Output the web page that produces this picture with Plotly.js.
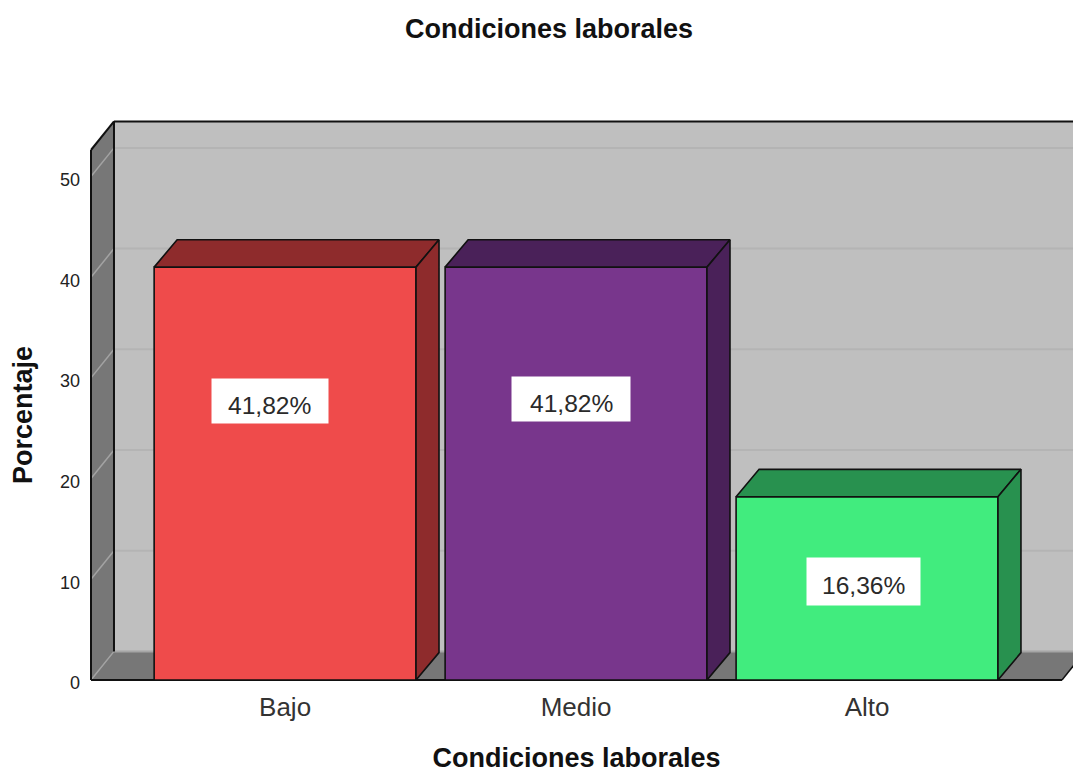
<!DOCTYPE html>
<html><head><meta charset="utf-8">
<script src="https://cdn.plot.ly/plotly-3.0.1.min.js"></script>
<style>html,body{margin:0;padding:0;background:#fff;overflow:hidden}</style>
</head><body><div id="chart" style="width:1073px;height:773px"></div>
<script>
// Data
const categories = ["Bajo", "Medio", "Alto"];
const barHeights = [41.0, 41.0, 18.2];
const valueLabels = ["41,82%", "41,82%", "16,36%"];
const yTicks = [0, 10, 20, 30, 40, 50];

// Styles
const frontColors = ["#ef4b4b", "#78368c", "#41ec7e"];
const depthColors = ["#8e2b2c", "#4a2159", "#28914f"];
const FONT = "Liberation Sans, Arial, sans-serif";
const INK = "#111111";

// Axis geometry (3D look: depth of the box in data units)
const xMin = -0.667, xMax = 2.67, yMax = 52.63;
const dx = 0.079, dy = 2.84, barDy = 2.72, barW = 0.9;
const px = v => (v - xMin) / (xMax - xMin);
const py = v => v / yMax;
const path = pts => "M" + pts.map(p => px(p[0]) + "," + py(p[1])).join("L") + "Z";
const line = (a, b) => "M" + px(a[0]) + "," + py(a[1]) + "L" + px(b[0]) + "," + py(b[1]);
const shp = (d, fill, color, width) => ({type: "path", xref: "paper", yref: "paper", layer: "below",
  path: d, fillcolor: fill || "rgba(0,0,0,0)", line: {color: color || "rgba(0,0,0,0)", width: width || 0}});

const farX = xMax + dx + 0.05;
const shapes = [
  shp(path([[xMin + dx, dy], [farX, dy], [farX, yMax + dy], [xMin + dx, yMax + dy]]), "#bfbfbf"),
  shp(path([[xMin, 0], [xMin + dx, dy], [xMin + dx, yMax + dy], [xMin, yMax]]), "#777777"),
  shp(path([[xMin, 0], [xMax, 0], [xMax + dx, dy], [xMin + dx, dy]]), "#777777")
];
yTicks.forEach(t => {
  shapes.push(shp(line([xMin + dx, t + dy], [farX, t + dy]), null, t === 0 ? "#a6a6a6" : "#b4b4b4", 2));
  shapes.push(shp(line([xMin, t], [xMin + dx, t + dy]), null, "#a3a3a3", 1.5));
});
shapes.push(
  shp(line([xMin, 0], [xMin, yMax]), null, INK, 2),
  shp(line([xMin, yMax], [xMin + dx, yMax + dy]), null, INK, 2),
  shp(line([xMin + dx, dy], [xMin + dx, yMax + dy]), null, INK, 2),
  shp(line([xMin + dx, yMax + dy], [farX, yMax + dy]), null, INK, 2),
  shp(line([xMin, 0], [xMax, 0]), null, INK, 2),
  shp(line([xMax, 0], [xMax + dx, dy]), null, INK, 1.5)
);

// Front faces
const traces = [{
  type: "bar", x: [0, 1, 2], y: barHeights, width: barW, cliponaxis: false,
  marker: {color: frontColors, line: {color: INK, width: 1.6}}, hoverinfo: "skip", showlegend: false
}];
// Top and side faces, from the values
barHeights.forEach((h, i) => {
  const l = i - barW / 2, r = i + barW / 2;
  const face = (xs, ys) => ({type: "scatter", mode: "lines", x: xs, y: ys, fill: "toself", fillcolor: depthColors[i],
    line: {color: INK, width: 1.6}, cliponaxis: false, hoverinfo: "skip", showlegend: false});
  traces.push(face([l, r, r + dx, l + dx, l], [h, h, h + barDy, h + barDy, h]));
  traces.push(face([r, r + dx, r + dx, r, r], [0, barDy, h + barDy, h, 0]));
});

// Value-label box placement: offsets from bar centre and heights on the axis
const labelDX = [-0.052, -0.017, -0.012];
const labelY = [27.7, 27.9, 9.83];
const labelBox = [[116, 44], [118, 44], [113, 47]];
const textDrop = 4.5;
const annotations = [];
valueLabels.forEach((t, i) => {
  annotations.push({
    text: "\u00a0", xref: "x", yref: "y", x: i + labelDX[i], y: labelY[i], showarrow: false,
    bgcolor: "#ffffff", width: labelBox[i][0], height: labelBox[i][1], borderpad: 0,
    font: {family: FONT, size: 12, color: "#ffffff"}
  });
  annotations.push({
    text: t, xref: "x", yref: "y", x: i + labelDX[i], y: labelY[i], yshift: -textDrop, showarrow: false,
    font: {family: FONT, size: 24.6, color: "#2a2a2a"}
  });
});

const layout = {
  width: 1073, height: 773, autosize: false,
  margin: {l: 91, r: 11, t: 150, b: 93, pad: 0},
  paper_bgcolor: "#ffffff", plot_bgcolor: "rgba(0,0,0,0)",
  showlegend: false, barmode: "overlay",
  title: {text: "<b>Condiciones laborales</b>", x: 549 / 1073, xanchor: "center", xref: "container",
    y: 1 - 29 / 773, yanchor: "middle", yref: "container", font: {family: FONT, size: 27, color: "#111111"}},
  xaxis: {
    range: [xMin, xMax], tickmode: "array", tickvals: [0, 1, 2], ticktext: categories, ticks: "",
    showgrid: false, zeroline: false, showline: false, tickfont: {family: FONT, size: 26, color: "#333333"},
    ticklabelstandoff: 9,
    title: {text: "<b>Condiciones laborales</b>", standoff: 38, font: {family: FONT, size: 27, color: "#111111"}}
  },
  yaxis: {
    range: [0, yMax], tickmode: "array", tickvals: yTicks, ticktext: yTicks.map(String), ticks: "",
    showgrid: false, zeroline: false, showline: false, tickfont: {family: FONT, size: 18, color: "#222222"},
    ticklabelstandoff: 10, ticklabelshift: 3,
    title: {text: "<b>Porcentaje</b>", standoff: 19, font: {family: FONT, size: 27, color: "#111111"}}
  },
  shapes: shapes, annotations: annotations
};
Plotly.newPlot("chart", traces, layout, {displayModeBar: false, staticPlot: true});
</script></body></html>
